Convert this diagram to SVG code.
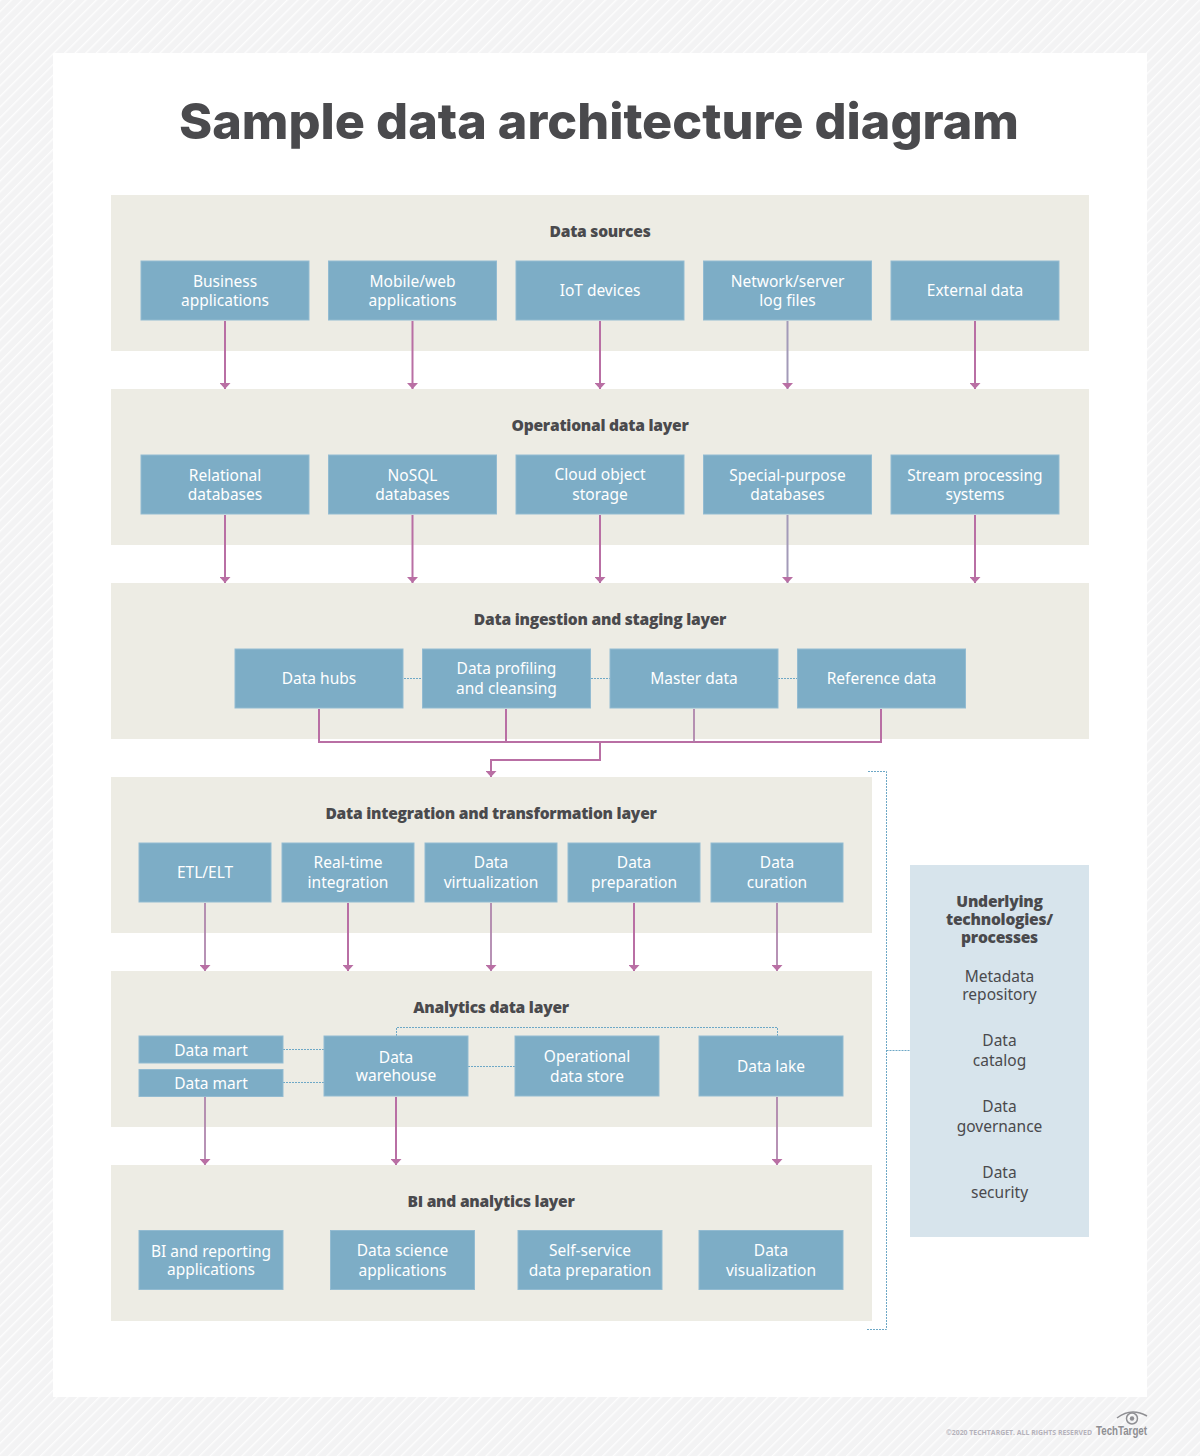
<svg xmlns="http://www.w3.org/2000/svg" width="1200" height="1456" viewBox="0 0 1200 1456">
<style>
text{font-family:"Open Sans","Noto Sans","Liberation Sans",sans-serif}
.layer{fill:#edece4}
.box{fill:#7dadc6;stroke:#93bbd1;stroke-width:1}
.t{fill:#fff;font-size:15.5px;text-anchor:middle;font-family:"Noto Sans","Open Sans",sans-serif}
.h{fill:#4a4a4d;font-size:15.6px;font-weight:800;text-anchor:middle;letter-spacing:-.25px}
.s{fill:#4a4a4d;font-size:15.5px;text-anchor:middle;font-family:"Noto Sans","Open Sans",sans-serif}
.pink{fill:none;stroke:#b96fa4;stroke-width:2}
.mix{stroke:#ab7fa8;stroke-width:1.700}
.grey{stroke:#a39ab8}
.arrow{marker-end:url(#ah)}
.dash{fill:none;stroke:#6ea8c6;stroke-width:1;stroke-dasharray:2 1}
</style>
<defs>
<pattern id="stripes" width="7.500" height="7.500" patternUnits="userSpaceOnUse" patternTransform="rotate(45)">
<rect width="7.500" height="7.500" fill="#f3f3f4"/><rect width="1.400" height="7.500" fill="#fdfdfd"/>
</pattern>
<marker id="ah" markerUnits="userSpaceOnUse" markerWidth="6" markerHeight="11" refX="6" refY="5.500" orient="auto" viewBox="0 0 6 11">
<path d="M0 0L6 5.500L0 11Z" fill="#b96fa4"/>
</marker>
</defs>
<rect width="1200" height="1456" fill="url(#stripes)"/>
<rect x="53" y="53" width="1094" height="1344" fill="#fff"/>
<text x="599" y="139" font-size="50" font-weight="800" fill="#4a4a4d" text-anchor="middle" textLength="840" lengthAdjust="spacingAndGlyphs" style="font-family:Inter,'Open Sans',sans-serif">Sample data architecture diagram</text>

<g id="layers">
<rect class="layer" x="111" y="195" width="978" height="156"/>
<rect class="layer" x="111" y="389" width="978" height="156"/>
<rect class="layer" x="111" y="583" width="978" height="156"/>
<rect class="layer" x="111" y="777" width="761" height="156"/>
<rect class="layer" x="111" y="971" width="761" height="156"/>
<rect class="layer" x="111" y="1165" width="761" height="156"/>
<text class="h" x="600" y="237">Data sources</text>
<text class="h" x="600" y="431">Operational data layer</text>
<text class="h" x="600" y="625">Data ingestion and staging layer</text>
<text class="h" x="491" y="819">Data integration and transformation layer</text>
<text class="h" x="491" y="1013">Analytics data layer</text>
<text class="h" x="491" y="1207">BI and analytics layer</text>
</g>

<g id="connectors">
<path class="pink arrow" d="M225 321V389"/><path class="pink arrow" d="M412.500 321V389"/><path class="pink arrow" d="M600 321V389"/><path class="pink grey arrow" d="M787.500 321V389"/><path class="pink arrow" d="M975 321V389"/>
<path class="pink arrow" d="M225 515V583"/><path class="pink arrow" d="M412.500 515V583"/><path class="pink arrow" d="M600 515V583"/><path class="pink grey arrow" d="M787.500 515V583"/><path class="pink arrow" d="M975 515V583"/>
<path class="pink" d="M319 709V742H881V709M506 709V742"/>
<path class="pink mix" d="M694 709V742"/>
<path class="pink arrow" d="M600 742V760H491V777"/>
<path class="pink mix arrow" d="M205 903V971"/><path class="pink arrow" d="M348 903V971"/><path class="pink mix arrow" d="M491 903V971"/><path class="pink arrow" d="M634 903V971"/><path class="pink mix arrow" d="M777 903V971"/>
<path class="pink mix arrow" d="M205 1097V1165"/><path class="pink arrow" d="M396 1097V1165"/><path class="pink mix arrow" d="M777 1097V1165"/>
<path class="dash" d="M404 678.500H422M591 678.500H610M778 678.500H797"/>
<path class="dash" d="M283 1049.500H324M283 1082.500H324M468 1066.500H515M396.500 1036V1027.500H777.500V1036"/>
<path class="dash" d="M868 771.500H886.500V1329.500H866M886.500 1050.500H910"/>
</g>

<g id="n-business"><rect class="box" x="141" y="261" width="168" height="59"/><text class="t" x="225" y="287">Business</text><text class="t" x="225" y="306">applications</text></g>
<g id="n-mobile"><rect class="box" x="328.500" y="261" width="168" height="59"/><text class="t" x="412.500" y="287">Mobile/web</text><text class="t" x="412.500" y="306">applications</text></g>
<g id="n-iot"><rect class="box" x="516" y="261" width="168" height="59"/><text class="t" x="600" y="296">IoT devices</text></g>
<g id="n-network"><rect class="box" x="703.500" y="261" width="168" height="59"/><text class="t" x="787.500" y="287">Network/server</text><text class="t" x="787.500" y="306">log files</text></g>
<g id="n-external"><rect class="box" x="891" y="261" width="168" height="59"/><text class="t" x="975" y="296">External data</text></g>

<g id="n-relational"><rect class="box" x="141" y="455" width="168" height="59"/><text class="t" x="225" y="481">Relational</text><text class="t" x="225" y="500">databases</text></g>
<g id="n-nosql"><rect class="box" x="328.500" y="455" width="168" height="59"/><text class="t" x="412.500" y="481">NoSQL</text><text class="t" x="412.500" y="500">databases</text></g>
<g id="n-cloud"><rect class="box" x="516" y="455" width="168" height="59"/><text class="t" x="600" y="480">Cloud object</text><text class="t" x="600" y="500">storage</text></g>
<g id="n-special"><rect class="box" x="703.500" y="455" width="168" height="59"/><text class="t" x="787.500" y="481">Special-purpose</text><text class="t" x="787.500" y="500">databases</text></g>
<g id="n-stream"><rect class="box" x="891" y="455" width="168" height="59"/><text class="t" x="975" y="481">Stream processing</text><text class="t" x="975" y="500">systems</text></g>

<g id="n-hubs"><rect class="box" x="235" y="649" width="168" height="59"/><text class="t" x="319" y="684">Data hubs</text></g>
<g id="n-profiling"><rect class="box" x="422.500" y="649" width="168" height="59"/><text class="t" x="506.500" y="674">Data profiling</text><text class="t" x="506.500" y="694">and cleansing</text></g>
<g id="n-master"><rect class="box" x="610" y="649" width="168" height="59"/><text class="t" x="694" y="684">Master data</text></g>
<g id="n-reference"><rect class="box" x="797.500" y="649" width="168" height="59"/><text class="t" x="881.500" y="684">Reference data</text></g>

<g id="n-etl"><rect class="box" x="139" y="843" width="132" height="59"/><text class="t" x="205" y="878">ETL/ELT</text></g>
<g id="n-realtime"><rect class="box" x="282" y="843" width="132" height="59"/><text class="t" x="348" y="868">Real-time</text><text class="t" x="348" y="888">integration</text></g>
<g id="n-virtual"><rect class="box" x="425" y="843" width="132" height="59"/><text class="t" x="491" y="868">Data</text><text class="t" x="491" y="888">virtualization</text></g>
<g id="n-prep"><rect class="box" x="568" y="843" width="132" height="59"/><text class="t" x="634" y="868">Data</text><text class="t" x="634" y="888">preparation</text></g>
<g id="n-curation"><rect class="box" x="711" y="843" width="132" height="59"/><text class="t" x="777" y="868">Data</text><text class="t" x="777" y="888">curation</text></g>

<g id="n-mart1"><rect class="box" x="139" y="1036" width="144" height="27"/><text class="t" x="211" y="1056">Data mart</text></g>
<g id="n-mart2"><rect class="box" x="139" y="1069.500" width="144" height="27"/><text class="t" x="211" y="1089">Data mart</text></g>
<g id="n-warehouse"><rect class="box" x="324" y="1036" width="144" height="60"/><text class="t" x="396" y="1063">Data</text><text class="t" x="396" y="1081">warehouse</text></g>
<g id="n-ods"><rect class="box" x="515" y="1036" width="144" height="60"/><text class="t" x="587" y="1062">Operational</text><text class="t" x="587" y="1082">data store</text></g>
<g id="n-lake"><rect class="box" x="699" y="1036" width="144" height="60"/><text class="t" x="771" y="1072">Data lake</text></g>

<g id="n-bi"><rect class="box" x="139" y="1230.500" width="144" height="59"/><text class="t" x="211" y="1257">BI and reporting</text><text class="t" x="211" y="1275">applications</text></g>
<g id="n-science"><rect class="box" x="330.500" y="1230.500" width="144" height="59"/><text class="t" x="402.500" y="1256">Data science</text><text class="t" x="402.500" y="1276">applications</text></g>
<g id="n-selfservice"><rect class="box" x="518" y="1230.500" width="144" height="59"/><text class="t" x="590" y="1256">Self-service</text><text class="t" x="590" y="1276">data preparation</text></g>
<g id="n-viz"><rect class="box" x="699" y="1230.500" width="144" height="59"/><text class="t" x="771" y="1256">Data</text><text class="t" x="771" y="1276">visualization</text></g>

<g id="n-underlying">
<rect x="910" y="865" width="179" height="372" fill="#d7e4ec"/>
<text class="h" x="999.500" y="907">Underlying</text><text class="h" x="999.500" y="925">technologies/</text><text class="h" x="999.500" y="943">processes</text>
<text class="s" x="999.500" y="982">Metadata</text><text class="s" x="999.500" y="1000">repository</text>
<text class="s" x="999.500" y="1046">Data</text><text class="s" x="999.500" y="1066">catalog</text>
<text class="s" x="999.500" y="1112">Data</text><text class="s" x="999.500" y="1132">governance</text>
<text class="s" x="999.500" y="1178">Data</text><text class="s" x="999.500" y="1198">security</text>
</g>

<g id="footer">
<text x="1092" y="1435" font-size="6.500" font-weight="700" fill="#b5b2bb" text-anchor="end" textLength="146" lengthAdjust="spacingAndGlyphs">©2020 TECHTARGET. ALL RIGHTS RESERVED</text>
<text x="1147" y="1435" font-size="12" font-weight="700" fill="#8f8f93" text-anchor="end" textLength="51" lengthAdjust="spacingAndGlyphs" style="font-family:'Liberation Sans',sans-serif">TechTarget</text>
<path d="M1117 1418Q1131 1407 1147 1416" fill="none" stroke="#8f8f93" stroke-width="1.500"/>
<circle cx="1132" cy="1418.500" r="5.500" fill="none" stroke="#8f8f93" stroke-width="1.500"/>
<circle cx="1132" cy="1418.500" r="2.200" fill="#8f8f93"/>
</g>
</svg>
